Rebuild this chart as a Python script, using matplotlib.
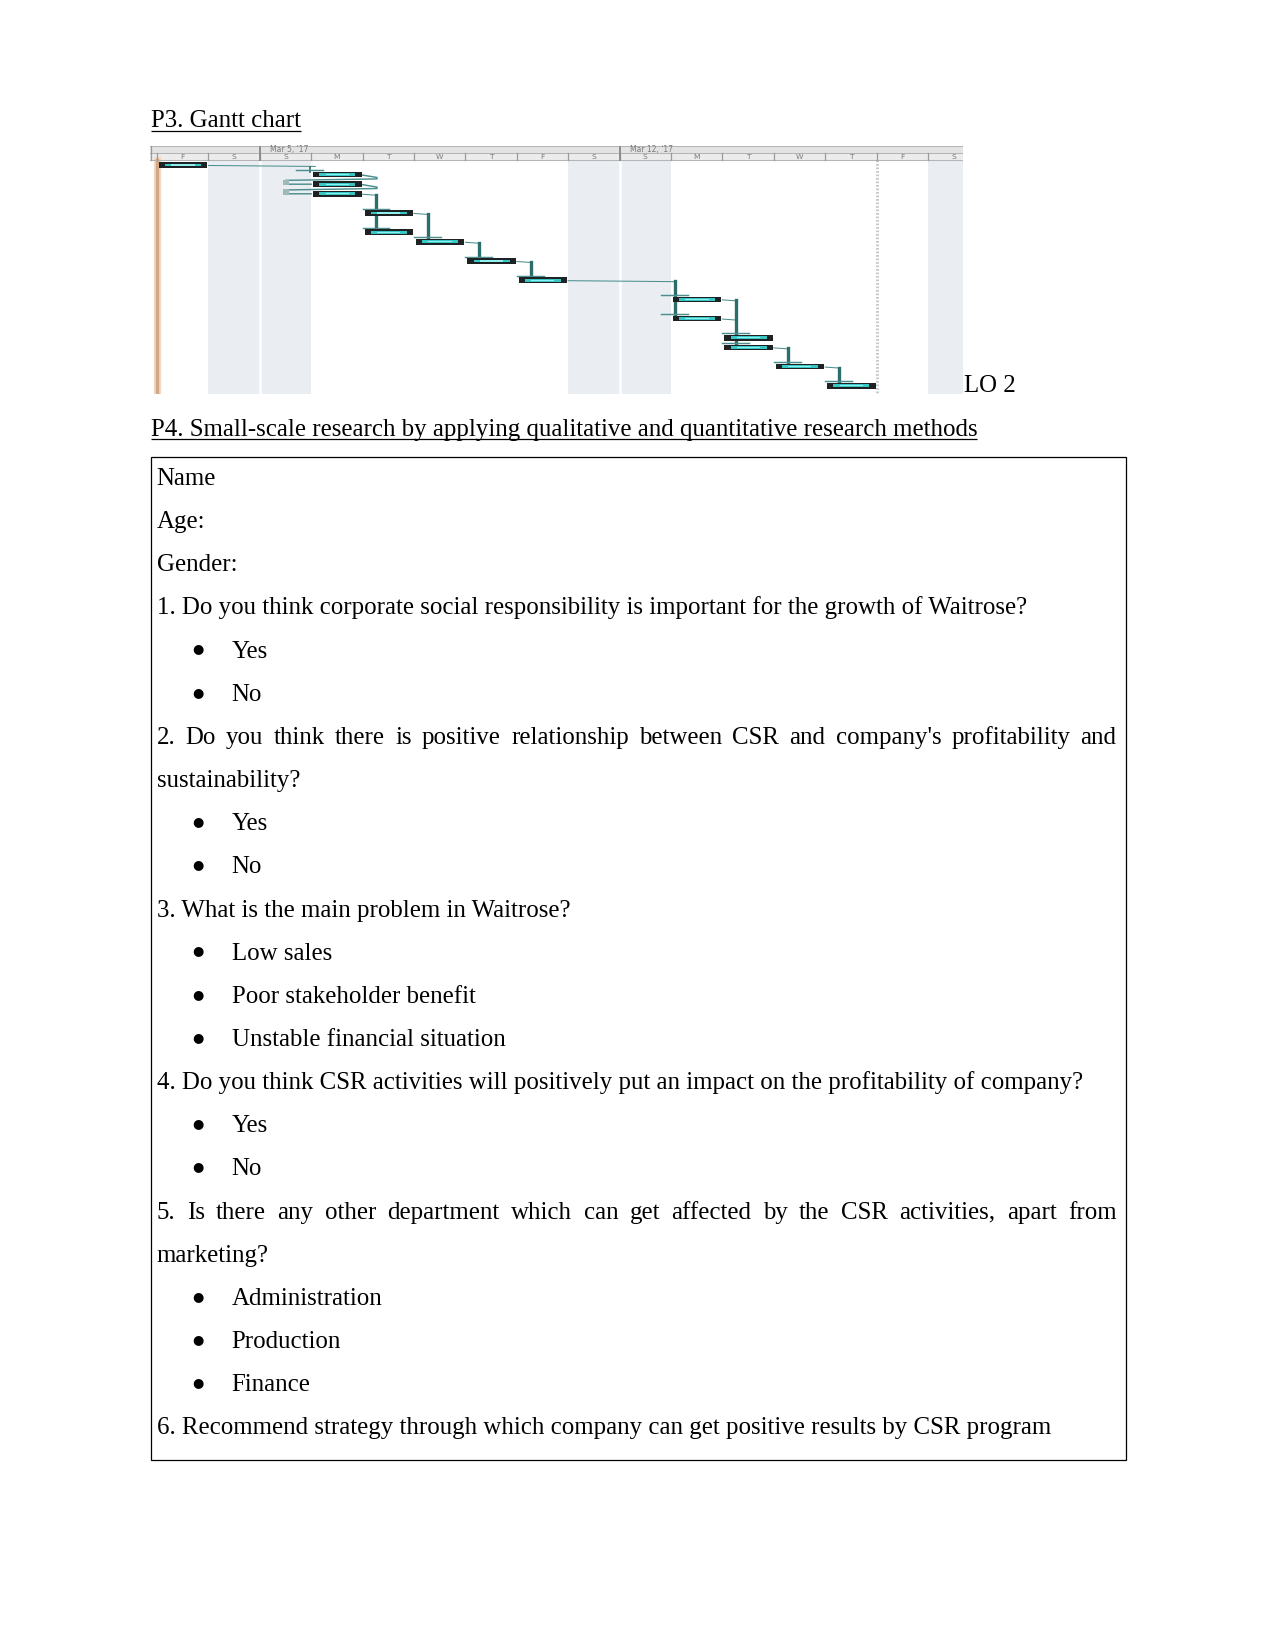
import matplotlib
matplotlib.use("Agg")
import matplotlib.pyplot as plt
from matplotlib.patches import Rectangle

# ---------------- data ----------------
day_letters = ['F', 'S', 'S', 'M', 'T', 'W', 'T', 'F', 'S', 'S', 'M', 'T', 'W', 'T', 'F', 'S']
week_labels = ["Mar 5, '17", "Mar 12, '17"]
week_start_days = [2, 9]
weekend_days = [1, 2, 8, 9, 15]
finish_day = 14

task_start = [0, 3, 3, 3, 4, 4, 5, 6, 7, 10, 10, 11, 11, 12, 13]
task_dur = [1, 1, 1, 1, 1, 1, 1, 1, 1, 1, 1, 1, 1, 1, 1]
task_row = [0, 1, 2, 3, 5, 7, 8, 10, 12, 14, 16, 18, 19, 21, 23]
# (predecessor groups -> successor groups) as task indices
link_preds = [[0], [3], [4], [6], [7], [8], [9, 10], [12], [13]]
link_succs = [[1], [4, 5], [6], [7], [8], [9, 10], [11, 12], [13], [14]]
loop_links = [(1, 2), (2, 3)]

title_p3 = "P3. Gantt chart"
lo_label = "LO 2"
title_p4 = "P4. Small-scale research by applying qualitative and quantitative research methods"

survey_kinds = ['p', 'p', 'p', 'p', 'b', 'b', 'j', 'p', 'b', 'b', 'p', 'b', 'b', 'b',
                'p', 'b', 'b', 'j', 'p', 'b', 'b', 'b', 'p']
survey_texts = [
    "Name", "Age:", "Gender:",
    "1. Do you think corporate social responsibility is important for the growth of Waitrose?",
    "Yes", "No",
    "2. Do you think there is positive relationship between CSR and company's profitability and",
    "sustainability?",
    "Yes", "No",
    "3. What is the main problem in Waitrose?",
    "Low sales", "Poor stakeholder benefit", "Unstable financial situation",
    "4. Do you think CSR activities will positively put an impact on the profitability of company?",
    "Yes", "No",
    "5. Is there any other department which can get affected by the CSR activities, apart from",
    "marketing?",
    "Administration", "Production", "Finance",
    "6. Recommend strategy through which company can get positive results by CSR program",
]

# ---------------- page ----------------
W, H = 1275, 1650
fig = plt.figure(figsize=(8.5, 11), dpi=150)
page = fig.add_axes([0, 0, 1, 1])
page.set_xlim(0, W)
page.set_ylim(H, 0)
page.axis('off')
renderer = fig.canvas.get_renderer()
FAM = ['Liberation Serif', 'DejaVu Serif']


def wpx(t):
    return t.get_window_extent(renderer).width


# calibrate font size on the last survey line
tmp = page.text(0, 0, survey_texts[-1], fontsize=12, family=FAM)
fs = 12 * 895.0 / wpx(tmp)
tmp.remove()


def put(x, y, s, underline=False, **kw):
    t = page.text(x, y, s, fontsize=fs, family=FAM, va='baseline', ha='left',
                  color='black', **kw)
    if underline:
        w = wpx(t)
        page.plot([x, x + w], [y + 3.6, y + 3.6], color='black', lw=0.6,
                  solid_capstyle='butt')
    return t


put(150.7, 127.3, title_p3, underline=True)
put(963.5, 391.5, lo_label)
put(150.7, 435.7, title_p4, underline=True)

# table box
page.add_patch(Rectangle((150.7, 456.5), 1125.8 - 150.7, 1460 - 456.5,
                         fill=False, ec='black', lw=0.6))

x_text, x_bullet, x_btext, x_right = 156.7, 197.5, 231.5, 1116.5
y0, dy = 485.0, 43.15
for i, (k, s) in enumerate(zip(survey_kinds, survey_texts)):
    y = y0 + i * dy
    if k == 'p':
        put(x_text, y, s)
    elif k == 'b':
        page.text(x_bullet, y - 8.6, "\u25CF", fontsize=fs * 0.52, family=['DejaVu Sans'],
                  va='center', ha='center', color='black')
        put(x_btext, y, s)
    else:  # justified line
        words = s.split(' ')
        ts = [put(0, y, w_) for w_ in words]
        widths = [wpx(t) for t in ts]
        gap = (x_right - x_text - sum(widths)) / (len(words) - 1)
        x = x_text
        for t, w_ in zip(ts, widths):
            t.set_x(x)
            x += w_ + gap

# ---------------- Gantt ----------------
DAYW = 51.4
X0PX = 157.0
ROWH = 9.6
ROW0PX = 165.0
gl, gr, gt, gb = 150.0, 963.0, 146.0, 394.0
gax = fig.add_axes([gl / W, 1 - gb / H, (gr - gl) / W, (gb - gt) / H])
gax.set_xlim((gl - X0PX) / DAYW, (gr - X0PX) / DAYW)
gax.set_ylim((gb - ROW0PX) / ROWH, (gt - ROW0PX) / ROWH)
gax.axis('off')

xmin, xmax = gax.get_xlim()
ybot, ytop = gax.get_ylim()
h_top = ytop
h_mid = (153.3 - ROW0PX) / ROWH
h_bot = (160.0 - ROW0PX) / ROWH

# header
gax.add_patch(Rectangle((xmin, h_top), xmax - xmin, h_mid - h_top, fc='#e3e3e3', ec='none'))
gax.add_patch(Rectangle((xmin, h_mid), xmax - xmin, h_bot - h_mid, fc='#ececec', ec='none'))
gax.plot([xmin, xmax], [h_top, h_top], color='#b5b5b5', lw=0.5)
gax.plot([xmin, xmax], [h_mid, h_mid], color='#b5b5b5', lw=0.5)
gax.plot([xmin, xmax], [h_bot, h_bot], color='#b5b5b5', lw=0.5)
for d in range(len(day_letters)):
    gax.plot([d, d], [h_mid, h_bot], color='#9a9a9a', lw=0.6)
    gax.text(d + 0.5, (h_mid + h_bot) / 2, day_letters[d], fontsize=3.6,
             color='#7a7a7a', ha='center', va='center', family='DejaVu Sans')
for ws, wl in zip(week_start_days, week_labels):
    gax.plot([ws, ws], [h_top, h_bot], color='#8a8a8a', lw=0.9)
    gax.text(ws + 0.2, (h_top + h_mid) / 2, wl, fontsize=3.7, color='#7a7a7a',
             ha='left', va='center', family='DejaVu Sans')
gax.plot([xmin + 0.02, xmin + 0.02], [h_top, h_bot], color='#9a9a9a', lw=0.6)

# weekend shading
for d in weekend_days:
    gax.add_patch(Rectangle((d, h_bot), 1, ybot - h_bot, fc='#eaeef3', ec='none', zorder=0))
for ws in week_start_days:
    gax.plot([ws, ws], [h_bot, ybot], color='white', lw=1.2, zorder=0.5)

# project start & finish lines
gax.plot([0, 0], [h_bot, ybot], color='#f3d9c2', lw=3.5, zorder=1)
gax.plot([0, 0], [h_bot, ybot], color='#d3a686', lw=1.6, zorder=1.1)
gax.plot([finish_day, finish_day], [h_bot, ybot], color='#c8c8c8', lw=1.4,
         ls=(0, (0.6, 0.6)), zorder=1)

TEAL = '#2c6e6c'
THIN = '#4d8f8e'

# dependency links
for preds, succs in zip(link_preds, link_succs):
    pend = max(task_start[p] + task_dur[p] for p in preds)
    sstart = min(task_start[s] for s in succs)
    if sstart > pend:
        bx = sstart + 0.08
    else:
        bx = pend + 0.27
    rtop = min(task_row[p] for p in preds)
    rbot = max(task_row[s] for s in succs)
    for p in preds:
        pe = task_start[p] + task_dur[p]
        gax.plot([pe, bx], [task_row[p] + 0.05, task_row[p] + 0.15], color=THIN, lw=0.5, zorder=2)
    if sstart > pend and len(succs) == 1 and rbot - rtop == 1:
        gax.plot([bx - 0.1, bx - 0.1], [rtop + 0.2, rbot - 0.3], color=TEAL, lw=0.8, zorder=2)
        bx -= 0.1
    else:
        gax.plot([bx, bx], [rtop + 0.1, rbot - 0.3], color=TEAL, lw=1.6, zorder=2)
    for s in succs:
        gax.plot([bx - 0.27, bx + 0.25], [task_row[s] - 0.45, task_row[s] - 0.45],
                 color=THIN, lw=0.7, zorder=2)

for p, s in loop_links:
    pe = task_start[p] + task_dur[p]
    ss = task_start[s]
    rp, rs = task_row[p], task_row[s]
    xs = [pe, pe + 0.28, pe + 0.28, ss - 0.5, ss - 0.5, ss]
    ys = [rp + 0.05, rp + 0.3, rp + 0.45, rp + 0.6, rs, rs]
    gax.plot(xs, ys, color=THIN, lw=0.7, zorder=2)
    gax.add_patch(Rectangle((ss - 0.55, rp + 0.55), 0.12, rs - rp - 0.45,
                            fc='#9fb9b9', ec='none', zorder=2))

# bars
for st, du, r in zip(task_start, task_dur, task_row):
    gax.add_patch(Rectangle((st + 0.04, r - 0.29), du - 0.06, 0.58,
                            fc='#1f2222', ec='none', zorder=3))
    gax.add_patch(Rectangle((st + 0.16, r - 0.14), du - 0.3, 0.28,
                            fc='#36c6c6', ec='none', zorder=4))
    gax.add_patch(Rectangle((st + 0.28, r - 0.06), du - 0.55, 0.12,
                            fc='#8ff0f0', ec='none', zorder=4.5))

fig.savefig('out.png', dpi=150)
